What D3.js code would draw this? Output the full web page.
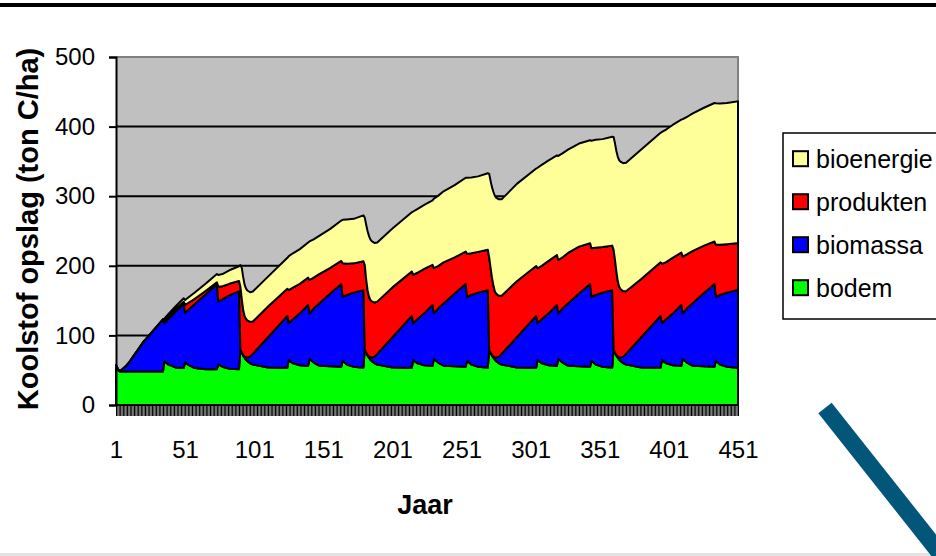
<!DOCTYPE html>
<html>
<head>
<meta charset="utf-8">
<script src="https://cdnjs.cloudflare.com/ajax/libs/d3/7.8.5/d3.min.js"></script>
<style>
  html, body { margin: 0; padding: 0; background: #ffffff; }
  svg { display: block; }
  text { font-family: "Liberation Sans", Arial, sans-serif; fill: #000; }
</style>
</head>
<body>
<svg id="chart" width="936" height="556"></svg>
<script>
// Carbon storage per hectare (ton C/ha) over 451 years, four rotations of ~90 years
const years = [
  1, 2, 3, 4, 5, 6, 8, 10, 21, 35, 36, 39, 44, 50, 51, 54, 58, 66, 74, 75, 78, 83, 90,
  91, 92, 93, 94, 95, 96, 98, 100, 111, 125, 126, 129, 134, 140, 141, 144, 148, 156, 164, 165, 168, 173, 180,
  181, 182, 183, 184, 185, 186, 188, 190, 201, 215, 216, 219, 224, 230, 231, 234, 238, 246, 254, 255, 258, 263, 270,
  271, 272, 273, 274, 275, 276, 278, 280, 291, 305, 306, 309, 314, 320, 321, 324, 328, 336, 344, 345, 348, 353, 360,
  361, 362, 363, 364, 365, 366, 368, 370, 381, 395, 396, 399, 404, 410, 411, 414, 418, 426, 434, 435, 438, 443, 450, 451
];
const bodem = [
  57.5, 53, 49, 48, 48, 48, 48, 48, 48, 48, 63, 58, 54, 53, 61, 57, 53, 51.3, 51.3, 58.5, 55, 52, 51.3,
  79, 75, 71, 68, 65, 63, 60, 58, 54, 53.5, 64.5, 60, 57, 56, 66, 61, 56.5, 55.5, 55, 63.5, 58, 55, 53.5,
  80, 75, 71, 68, 65, 63, 60, 58, 54, 53.5, 64.5, 60, 57, 56, 66, 61, 56.5, 55.5, 55, 63.5, 58, 55, 53.5,
  79, 75, 71, 68, 65, 63, 60, 58, 54, 53.5, 64.5, 60, 57, 56, 66, 61, 56.5, 55.5, 55, 63.5, 58, 55, 53.5,
  80, 75, 71, 68, 65, 63, 60, 58, 54, 53.5, 64.5, 60, 57, 56, 66, 61, 56.5, 55.5, 55, 63.5, 58, 55, 53.5, 53.5
];
const biomassa = [
  0, 0, 0.5, 1, 2.5, 4, 7.5, 12, 43, 75, 54.4, 66, 80, 92, 71.7, 81.1, 92.1, 107.8, 122.4, 90, 96.7, 105.6, 112,
  0, 0.5, 1, 2, 3.5, 5, 9.5, 15.5, 43.3, 74.5, 52.9, 63.3, 74.7, 87.7, 65.7, 77.6, 89.3, 104.8, 118.7, 92.1, 100, 106.5, 111.5,
  0, 0.5, 1, 2, 3.5, 5, 9.5, 15.5, 43.3, 74.5, 52.9, 63.3, 74.7, 87.7, 65.7, 77.6, 89.3, 104.8, 118.7, 92.1, 100, 106.5, 111.5,
  0, 0.5, 1, 2, 3.5, 5, 9.5, 15.5, 43.3, 74.5, 52.9, 63.3, 74.7, 87.7, 65.7, 77.6, 89.3, 104.8, 118.7, 92.1, 100, 106.5, 111.5,
  0, 0.5, 1, 2, 3.5, 5, 9.5, 15.5, 43.3, 74.5, 52.9, 63.3, 74.7, 87.7, 65.7, 77.6, 89.3, 104.8, 118.7, 92.1, 100, 106.5, 111.5, 112
];
const produkten = [
  0, 0, 0, 0, 0, 0, 0, 0, 0, 0, 3.6, 3.6, 3.5, 3.5, 11, 9.5, 7.5, 5, 2.5, 21.5, 19, 16.5, 15,
  91, 76.5, 65, 58, 55.5, 53.5, 50, 46.5, 44.2, 39, 47.6, 45.2, 42.3, 39.3, 47.9, 44.4, 42.2, 36.7, 33.3, 47.9, 45, 42, 41.5,
  121, 104.5, 93, 86, 82.5, 81, 77.8, 75, 71.7, 63.8, 69.6, 66.7, 63.8, 57.7, 64.9, 60.9, 59.2, 51.7, 46.8, 61.5, 60, 58.5, 58,
  133, 121.5, 111, 102.4, 95.5, 92, 87.5, 83.5, 80.4, 71.7, 79, 76.7, 75.3, 71.8, 76.6, 73.4, 72.7, 67.3, 58.6, 69.5, 68, 65.5, 64,
  143, 133, 120, 108, 101.5, 98.5, 94, 90, 83.7, 77, 85.4, 82, 80, 75.4, 81.6, 77.7, 75.4, 68.4, 61.2, 74.5, 72.1, 69.5, 67.5, 67
];
const bioenergie = [
  0, 0, 0, 0, 0, 0, 0, 0, 0, 0, 3, 3.3, 4, 4.8, 7.2, 8, 9, 10.5, 12, 16.7, 17.5, 19.5, 21,
  31, 45, 47, 45, 43.5, 43, 42.5, 43, 43, 44.5, 49, 49.5, 50, 50.5, 55.4, 55, 55, 56, 58, 62.5, 63.5, 64, 66,
  68, 79, 85, 87, 87, 86.5, 85.5, 85, 84.5, 85, 91, 91.5, 92, 92.5, 100, 101, 102, 104, 106, 109.5, 109, 108.5, 110,
  120, 125, 130, 134, 137, 138, 138.5, 138.5, 140, 140, 144.5, 145, 144.5, 143, 149.5, 149.5, 148.5, 148, 148, 154.5, 155, 155, 156.5,
  162, 167.5, 173, 179, 182, 183, 184, 184.5, 186, 186, 189.5, 190.5, 191, 191, 197.5, 197.5, 197.5, 198, 199, 203.5, 203, 203, 203.5, 204
];

const seriesKeys = ["bodem", "biomassa", "produkten", "bioenergie"];
const seriesColors = { bodem: "#00FF00", biomassa: "#0000FF", produkten: "#FF0000", bioenergie: "#FFFF99" };
const legendOrder = ["bioenergie", "produkten", "biomassa", "bodem"];
const yTicks = [0, 100, 200, 300, 400, 500];
const xLabels = [1, 51, 101, 151, 201, 251, 301, 351, 401, 451];
const yTitle = "Koolstof opslag (ton C/ha)";
const xTitle = "Jaar";

const rows = years.map((yr, i) => ({
  year: yr, bodem: bodem[i], biomassa: biomassa[i], produkten: produkten[i], bioenergie: bioenergie[i]
}));

const svg = d3.select("#chart");
const W = 936, H = 556;
const plot = { left: 116, right: 738, top: 57, bottom: 405 };

// page decorations
svg.append("line").attr("x1", 0).attr("x2", W).attr("y1", 5).attr("y2", 5)
  .attr("stroke", "#000").attr("stroke-width", 4);
svg.append("line").attr("x1", 0).attr("x2", W).attr("y1", 554.5).attr("y2", 554.5)
  .attr("stroke", "#e3e3e3").attr("stroke-width", 3);
svg.append("line").attr("x1", 825).attr("y1", 408).attr("x2", 962).attr("y2", 581)
  .attr("stroke", "#02567A").attr("stroke-width", 17);

const x = d3.scaleLinear().domain([1, 451]).range([plot.left, plot.right]);
const y = d3.scaleLinear().domain([0, 500]).range([plot.bottom, plot.top]);

// plot area background
svg.append("rect").attr("x", plot.left).attr("y", plot.top)
  .attr("width", plot.right - plot.left).attr("height", plot.bottom - plot.top)
  .attr("fill", "#C0C0C0");
svg.append("path")
  .attr("d", `M${plot.left},${plot.top}H${plot.right}V${plot.bottom}`)
  .attr("fill", "none").attr("stroke", "#808080").attr("stroke-width", 2);

// gridlines
svg.append("g").selectAll("line").data(yTicks.filter(t => t > 0 && t < 500)).join("line")
  .attr("x1", plot.left).attr("x2", plot.right)
  .attr("y1", d => y(d)).attr("y2", d => y(d))
  .attr("stroke", "#000").attr("stroke-width", 2);

// stacked areas
const stack = d3.stack().keys(seriesKeys);
const layers = stack(rows);
const area = d3.area()
  .x(d => x(d.data.year))
  .y0(d => y(d[0]))
  .y1(d => y(d[1]));
svg.append("g").selectAll("path").data(layers).join("path")
  .attr("d", area)
  .attr("fill", d => seriesColors[d.key])
  .attr("stroke", "#000").attr("stroke-width", 2).attr("stroke-linejoin", "round");

// y axis
const yAxis = d3.axisLeft(y).tickValues(yTicks).tickSize(7).tickPadding(14);
const gy = svg.append("g").attr("transform", `translate(${plot.left},0)`).call(yAxis);
gy.select(".domain").attr("stroke", "#000").attr("stroke-width", 2);
gy.selectAll(".tick line").attr("stroke", "#000").attr("stroke-width", 2);
gy.selectAll(".tick text").attr("font-size", 24).attr("font-family", "Liberation Sans, Arial, sans-serif")
  .attr("fill", "#000");

// x axis: a tick for every year, labels every 50 years
const allYears = d3.range(1, 452);
const xTickAxis = d3.axisBottom(x).tickValues(allYears).tickSize(11).tickFormat("");
const gxt = svg.append("g").attr("transform", `translate(0,${plot.bottom})`).call(xTickAxis);
gxt.select(".domain").remove();
gxt.selectAll(".tick line").attr("stroke", "#000").attr("stroke-width", 1);
svg.append("line").attr("x1", plot.left).attr("x2", plot.right)
  .attr("y1", plot.bottom).attr("y2", plot.bottom).attr("stroke", "#000").attr("stroke-width", 2);

const xLabelAxis = d3.axisBottom(x).tickValues(xLabels).tickSize(0).tickPadding(36).tickFormat(d3.format("d"));
const gxl = svg.append("g").attr("transform", `translate(0,${plot.bottom})`).call(xLabelAxis);
gxl.select(".domain").remove();
gxl.selectAll(".tick text").attr("font-size", 24).attr("font-family", "Liberation Sans, Arial, sans-serif")
  .attr("fill", "#000");

// axis titles
svg.append("text").attr("x", 425).attr("y", 505).attr("text-anchor", "middle")
  .attr("dominant-baseline", "central")
  .attr("font-size", 27).attr("font-weight", "bold").text(xTitle);
svg.append("text").attr("transform", "translate(28,229) rotate(-90)")
  .attr("text-anchor", "middle").attr("dominant-baseline", "central")
  .attr("font-size", 29).attr("font-weight", "bold").text(yTitle);

// legend
const lg = svg.append("g");
lg.append("rect").attr("x", 783).attr("y", 133).attr("width", 170).attr("height", 186)
  .attr("fill", "#fff").attr("stroke", "#000").attr("stroke-width", 1.5);
const items = lg.selectAll("g.item").data(legendOrder).join("g")
  .attr("class", "item")
  .attr("transform", (d, i) => `translate(793,${158.7 + i * 43})`);
items.append("rect").attr("x", 0).attr("y", -7.5).attr("width", 15).attr("height", 15)
  .attr("fill", d => seriesColors[d]).attr("stroke", "#000").attr("stroke-width", 2);
items.append("text").attr("x", 23).attr("y", 0).attr("dominant-baseline", "central")
  .attr("font-size", 25).text(d => d);
</script>
</body>
</html>
